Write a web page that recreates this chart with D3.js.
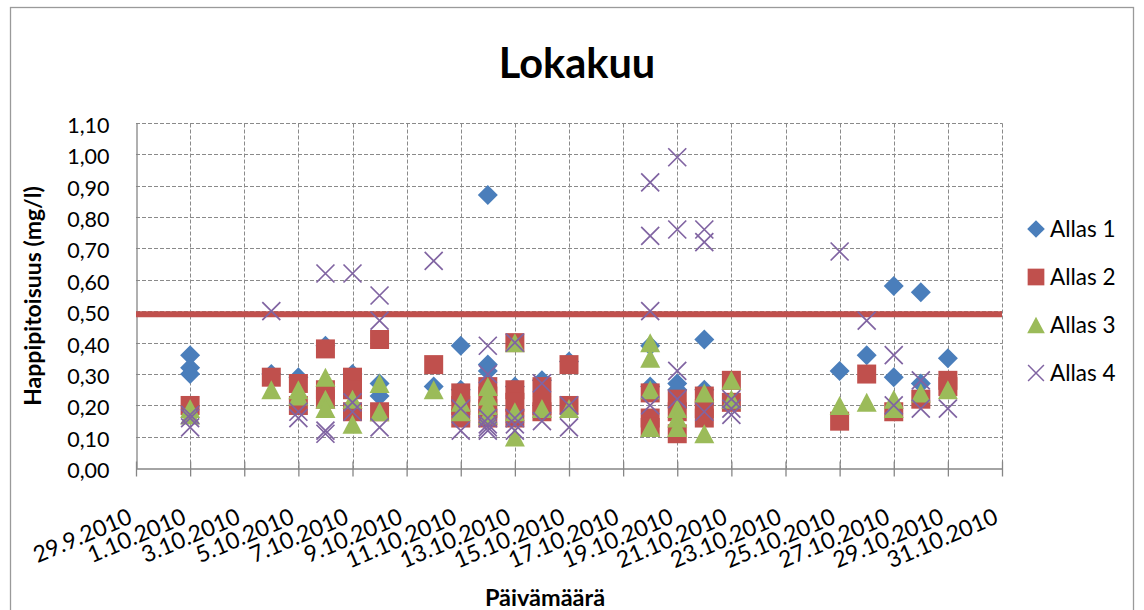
<!DOCTYPE html>
<html>
<head>
<meta charset="utf-8">
<script src="https://cdn.jsdelivr.net/npm/d3@7"></script>
<style>
  html, body { margin: 0; padding: 0; background: #fff; }
  svg { display: block; font-family: Lato, "Open Sans", sans-serif; }
</style>
</head>
<body>
<svg id="chart" width="1144" height="610"></svg>
<script>
// Dissolved oxygen measurements, October 2010 (mg/l), four basins.
const allas1 = [
  ["1.10.2010", 0.36], ["1.10.2010", 0.32], ["1.10.2010", 0.30],
  ["4.10.2010", 0.30], ["5.10.2010", 0.29], ["6.10.2010", 0.39],
  ["7.10.2010", 0.30], ["8.10.2010", 0.27], ["8.10.2010", 0.23],
  ["10.10.2010", 0.26], ["11.10.2010", 0.39], ["11.10.2010", 0.25],
  ["12.10.2010", 0.87], ["12.10.2010", 0.33], ["12.10.2010", 0.31],
  ["13.10.2010", 0.26], ["14.10.2010", 0.28], ["15.10.2010", 0.34],
  ["18.10.2010", 0.39], ["18.10.2010", 0.26], ["19.10.2010", 0.27],
  ["19.10.2010", 0.25], ["20.10.2010", 0.41], ["20.10.2010", 0.25],
  ["25.10.2010", 0.31], ["26.10.2010", 0.36], ["27.10.2010", 0.58],
  ["27.10.2010", 0.29], ["28.10.2010", 0.56], ["28.10.2010", 0.27],
  ["29.10.2010", 0.35]
];
const allas2 = [
  ["1.10.2010", 0.20], ["4.10.2010", 0.29], ["5.10.2010", 0.27],
  ["5.10.2010", 0.20], ["6.10.2010", 0.38], ["6.10.2010", 0.25],
  ["6.10.2010", 0.22], ["7.10.2010", 0.29], ["7.10.2010", 0.25],
  ["7.10.2010", 0.18], ["8.10.2010", 0.41], ["8.10.2010", 0.18],
  ["10.10.2010", 0.33], ["11.10.2010", 0.24], ["11.10.2010", 0.20],
  ["11.10.2010", 0.16], ["12.10.2010", 0.26], ["12.10.2010", 0.23],
  ["12.10.2010", 0.19], ["12.10.2010", 0.16], ["13.10.2010", 0.40],
  ["13.10.2010", 0.25], ["13.10.2010", 0.21], ["13.10.2010", 0.16],
  ["14.10.2010", 0.26], ["14.10.2010", 0.20], ["14.10.2010", 0.18],
  ["15.10.2010", 0.33], ["15.10.2010", 0.20], ["18.10.2010", 0.24],
  ["18.10.2010", 0.16], ["18.10.2010", 0.13], ["19.10.2010", 0.22],
  ["19.10.2010", 0.18], ["19.10.2010", 0.11], ["20.10.2010", 0.23],
  ["20.10.2010", 0.19], ["20.10.2010", 0.16], ["21.10.2010", 0.28],
  ["21.10.2010", 0.21], ["25.10.2010", 0.15], ["26.10.2010", 0.30],
  ["27.10.2010", 0.18], ["28.10.2010", 0.22], ["29.10.2010", 0.28],
  ["29.10.2010", 0.26]
];
const allas3 = [
  ["1.10.2010", 0.19], ["1.10.2010", 0.17], ["4.10.2010", 0.25],
  ["5.10.2010", 0.25], ["5.10.2010", 0.23], ["6.10.2010", 0.29],
  ["6.10.2010", 0.22], ["6.10.2010", 0.19], ["7.10.2010", 0.22],
  ["7.10.2010", 0.14], ["8.10.2010", 0.27], ["8.10.2010", 0.18],
  ["10.10.2010", 0.25], ["11.10.2010", 0.21], ["11.10.2010", 0.18],
  ["12.10.2010", 0.26], ["12.10.2010", 0.23], ["12.10.2010", 0.20],
  ["12.10.2010", 0.17], ["13.10.2010", 0.40], ["13.10.2010", 0.18],
  ["13.10.2010", 0.10], ["14.10.2010", 0.19], ["15.10.2010", 0.19],
  ["18.10.2010", 0.40], ["18.10.2010", 0.35], ["18.10.2010", 0.25],
  ["18.10.2010", 0.13], ["19.10.2010", 0.19], ["19.10.2010", 0.16],
  ["19.10.2010", 0.13], ["20.10.2010", 0.24], ["20.10.2010", 0.11],
  ["21.10.2010", 0.28], ["21.10.2010", 0.22], ["25.10.2010", 0.20],
  ["26.10.2010", 0.21], ["27.10.2010", 0.22], ["27.10.2010", 0.19],
  ["28.10.2010", 0.24], ["29.10.2010", 0.25]
];
const allas4 = [
  ["1.10.2010", 0.17], ["1.10.2010", 0.16], ["1.10.2010", 0.13],
  ["4.10.2010", 0.50], ["5.10.2010", 0.18], ["5.10.2010", 0.16],
  ["6.10.2010", 0.62], ["6.10.2010", 0.12], ["6.10.2010", 0.11],
  ["7.10.2010", 0.62], ["7.10.2010", 0.21], ["7.10.2010", 0.18],
  ["8.10.2010", 0.55], ["8.10.2010", 0.47], ["8.10.2010", 0.13],
  ["10.10.2010", 0.66], ["11.10.2010", 0.19], ["11.10.2010", 0.12],
  ["12.10.2010", 0.39], ["12.10.2010", 0.30], ["12.10.2010", 0.16],
  ["12.10.2010", 0.14], ["12.10.2010", 0.13], ["12.10.2010", 0.12],
  ["13.10.2010", 0.40], ["13.10.2010", 0.16], ["13.10.2010", 0.14],
  ["13.10.2010", 0.12], ["14.10.2010", 0.27], ["14.10.2010", 0.15],
  ["15.10.2010", 0.20], ["15.10.2010", 0.13], ["18.10.2010", 0.91],
  ["18.10.2010", 0.74], ["18.10.2010", 0.50], ["18.10.2010", 0.20],
  ["19.10.2010", 0.99], ["19.10.2010", 0.76], ["19.10.2010", 0.31],
  ["19.10.2010", 0.22], ["20.10.2010", 0.76], ["20.10.2010", 0.72],
  ["20.10.2010", 0.18], ["21.10.2010", 0.22], ["21.10.2010", 0.19],
  ["21.10.2010", 0.17], ["25.10.2010", 0.69], ["26.10.2010", 0.47],
  ["27.10.2010", 0.36], ["27.10.2010", 0.20], ["28.10.2010", 0.28],
  ["28.10.2010", 0.19], ["29.10.2010", 0.19]
];

// Limit value shown as a horizontal line
const limitValue = 0.49;

const seriesNames = ["Allas 1", "Allas 2", "Allas 3", "Allas 4"];
const xTickLabels = [
  "29.9.2010", "1.10.2010", "3.10.2010", "5.10.2010", "7.10.2010",
  "9.10.2010", "11.10.2010", "13.10.2010", "15.10.2010", "17.10.2010",
  "19.10.2010", "21.10.2010", "23.10.2010", "25.10.2010", "27.10.2010",
  "29.10.2010", "31.10.2010"
];
const yTickValues = [0, 0.1, 0.2, 0.3, 0.4, 0.5, 0.6, 0.7, 0.8, 0.9, 1.0, 1.1];

const parseDate = d3.timeParse("%d.%m.%Y");
const fiLocale = d3.formatLocale({ decimal: ",", thousands: "\u00a0", grouping: [3], currency: ["", "\u00a0€"] });
const fmtY = fiLocale.format(".2f");
const fmtDate = d => `${d.getDate()}.${d.getMonth() + 1}.${d.getFullYear()}`;

const svg = d3.select("#chart");
const plot = { left: 136, right: 1002, top: 122.7, bottom: 468.3 };

const xTicks = xTickLabels.map(parseDate);
const x = d3.scaleTime()
  .domain([xTicks[0], xTicks[xTicks.length - 1]])
  .range([plot.left, plot.right]);
const y = d3.scaleLinear().domain([0, 1.1]).range([plot.bottom, plot.top]);

const crisp = v => Math.round(v) + 0.5;

// Chart frame
svg.append("rect")
  .attr("x", 10.5).attr("y", 7.5)
  .attr("width", 1123).attr("height", 620)
  .attr("fill", "none").attr("stroke", "#9a9a9a").attr("stroke-width", 1.3);

// Gridlines
const grid = svg.append("g").attr("stroke", "#8a8a8a").attr("stroke-width", 1)
  .attr("stroke-dasharray", "4,2").attr("fill", "none");
grid.selectAll("line.h").data(yTickValues.slice(1)).join("line")
  .attr("x1", plot.left).attr("x2", crisp(plot.right))
  .attr("y1", d => crisp(y(d))).attr("y2", d => crisp(y(d)));
grid.selectAll("line.v").data(xTicks.slice(1)).join("line")
  .attr("y1", crisp(plot.top)).attr("y2", plot.bottom)
  .attr("x1", d => crisp(x(d))).attr("x2", d => crisp(x(d)));

// Y axis
const yAxis = svg.append("g")
  .attr("transform", `translate(${crisp(plot.left)},0)`)
  .call(d3.axisLeft(y).tickValues(yTickValues).tickFormat(fmtY).tickSize(0).tickPadding(27));
yAxis.select(".domain").attr("stroke", "#868686").attr("stroke-width", 1.3);
yAxis.selectAll(".tick text")
  .attr("font-size", 21.5).attr("fill", "#000")
  .attr("dy", 9.5).attr("font-family", "Lato, 'Open Sans', sans-serif");

// X axis
const xAxis = svg.append("g")
  .attr("transform", `translate(0,${crisp(plot.bottom)})`)
  .call(d3.axisBottom(x).tickValues(xTicks).tickFormat(fmtDate).tickSizeInner(8).tickSizeOuter(0));
xAxis.select(".domain").attr("stroke", "#868686").attr("stroke-width", 1.3);
xAxis.selectAll(".tick line").attr("stroke", "#868686").attr("stroke-width", 1.3).attr("y1", -7);
xAxis.selectAll(".tick text")
  .attr("font-size", 23).attr("fill", "#000")
  .attr("font-family", "Lato, 'Open Sans', sans-serif")
  .attr("text-anchor", "end")
  .attr("y", 0).attr("dy", 0)
  .attr("transform", "translate(-3,54) rotate(-23)");

// Limit line
svg.append("line")
  .attr("x1", plot.left).attr("x2", plot.right)
  .attr("y1", y(limitValue)).attr("y2", y(limitValue))
  .attr("stroke", "#c0504d").attr("stroke-width", 6);

// Markers
const markerStyles = [
  { data: allas1, color: "#4a7ebb", path: "M0,-10L10,0L0,10L-10,0Z", kind: "fill" },
  { data: allas2, color: "#c0504d", path: "M-9.5,-9.5H9.5V9.5H-9.5Z", kind: "fill" },
  { data: allas3, color: "#9bbb59", path: "M0,-9.5L10,9.5L-10,9.5Z", kind: "fill" },
  { data: allas4, color: "#8064a2", path: "M-9,-9L9,9M9,-9L-9,9", kind: "stroke" }
];

markerStyles.forEach(s => {
  const g = svg.append("g");
  g.selectAll("path").data(s.data).join("path")
    .attr("d", s.path)
    .attr("transform", d => `translate(${x(parseDate(d[0]))},${y(d[1])})`)
    .attr("fill", s.kind === "fill" ? s.color : "none")
    .attr("stroke", s.kind === "stroke" ? s.color : "none")
    .attr("stroke-width", 1.7);
});

// Legend
const legend = svg.append("g");
markerStyles.forEach((s, i) => {
  const cy = 229 + i * 48;
  legend.append("path")
    .attr("d", s.path)
    .attr("transform", `translate(1036,${cy}) scale(0.88)`)
    .attr("fill", s.kind === "fill" ? s.color : "none")
    .attr("stroke", s.kind === "stroke" ? s.color : "none")
    .attr("stroke-width", 1.7);
  legend.append("text")
    .attr("x", 1050).attr("y", cy + 7.5)
    .attr("font-size", 22.5).attr("fill", "#000")
    .text(seriesNames[i]);
});

// Titles
svg.append("text")
  .attr("x", 577).attr("y", 78)
  .attr("text-anchor", "middle")
  .attr("font-size", 41.5).attr("font-weight", "bold")
  .text("Lokakuu");

svg.append("text")
  .attr("transform", "translate(41,296) rotate(-90)")
  .attr("text-anchor", "middle")
  .attr("font-size", 23).attr("font-weight", "bold")
  .text("Happipitoisuus (mg/l)");

svg.append("text")
  .attr("x", 545).attr("y", 606)
  .attr("text-anchor", "middle")
  .attr("font-size", 23.5).attr("font-weight", "bold")
  .text("Päivämäärä");
</script>
</body>
</html>
